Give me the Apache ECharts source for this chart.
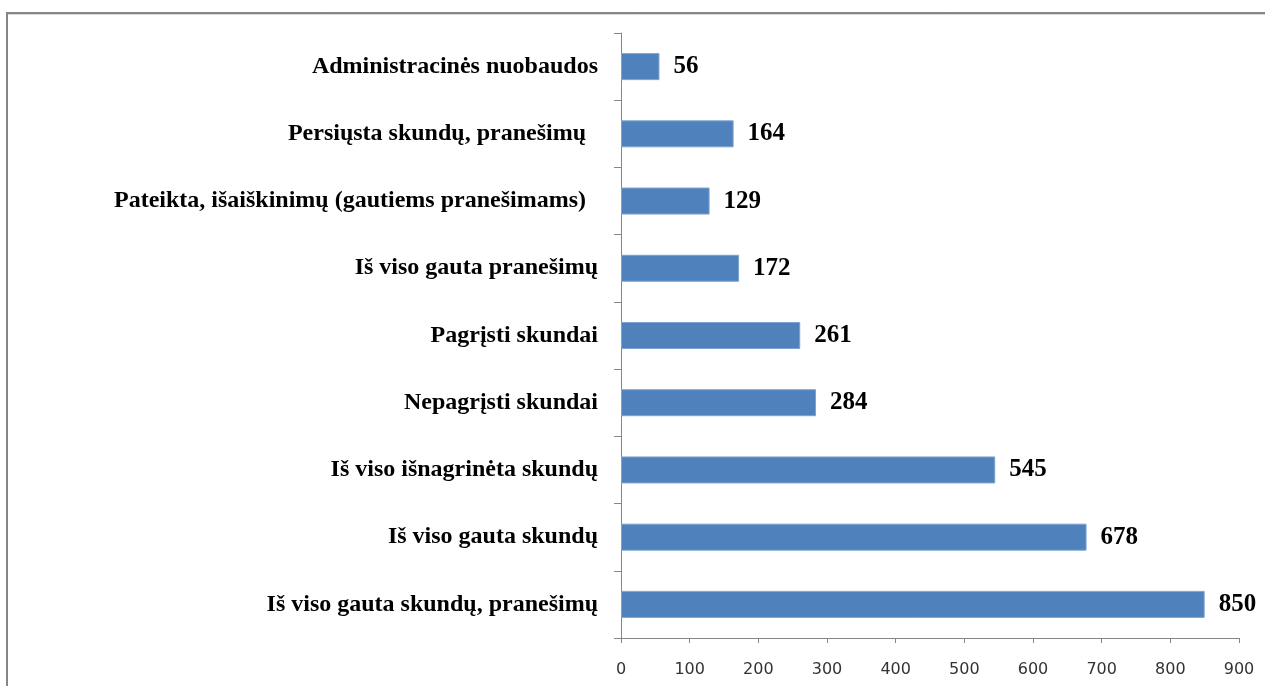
<!DOCTYPE html>
<html>
<head>
<meta charset="utf-8">
<script src="https://cdn.jsdelivr.net/npm/echarts@6/dist/echarts.min.js"></script>
<style>
html,body{margin:0;padding:0;background:#fff;}
#c{width:1265px;height:686px;}
</style>
</head>
<body>
<div id="c"></div>
<script>
const categories = [
  "Administracinės nuobaudos",
  "Persiųsta skundų, pranešimų  ",
  "Pateikta, išaiškinimų (gautiems pranešimams)  ",
  "Iš viso gauta pranešimų",
  "Pagrįsti skundai",
  "Nepagrįsti skundai",
  "Iš viso išnagrinėta skundų",
  "Iš viso gauta skundų",
  "Iš viso gauta skundų, pranešimų"
];
const values = [56, 164, 129, 172, 261, 284, 545, 678, 850];
const xTicks = [0, 100, 200, 300, 400, 500, 600, 700, 800, 900];

const chart = echarts.init(document.getElementById('c'));
chart.setOption({
  animation: false,
  backgroundColor: '#fff',
  graphic: [
    {type: 'line', shape: {x1: 7, y1: 13, x2: 1265, y2: 13}, style: {stroke: '#868686', lineWidth: 2}},
    {type: 'line', shape: {x1: 8, y1: 14.5, x2: 1265, y2: 14.5}, style: {stroke: '#d9d9d9', lineWidth: 1}},
    {type: 'line', shape: {x1: 7, y1: 12, x2: 7, y2: 686}, style: {stroke: '#868686', lineWidth: 2}}
  ],
  grid: {left: 621, right: 26, top: 33, bottom: 48, containLabel: false},
  xAxis: {
    type: 'value',
    min: xTicks[0],
    max: xTicks[xTicks.length - 1],
    interval: 100,
    axisLine: {show: true, lineStyle: {color: '#868686', width: 1}},
    axisTick: {show: true, length: 5, lineStyle: {color: '#868686'}},
    splitLine: {show: false},
    axisLabel: {
      color: '#333',
      fontFamily: 'DejaVu Sans',
      fontSize: 16,
      margin: 24
    }
  },
  yAxis: {
    type: 'category',
    inverse: true,
    data: categories,
    axisLine: {show: true, lineStyle: {color: '#868686', width: 1}},
    axisTick: {show: true, length: 7, alignWithLabel: false, lineStyle: {color: '#868686'}},
    axisLabel: {
      color: '#000',
      fontFamily: 'Liberation Serif',
      fontWeight: 'bold',
      fontSize: 24,
      margin: 23
    }
  },
  series: [{
    type: 'bar',
    data: values,
    barWidth: 27,
    itemStyle: {color: '#4F81BD', borderColor: '#7FA3CF', borderWidth: 1},
    label: {
      show: true,
      position: 'right',
      distance: 14,
      color: '#000',
      fontFamily: 'Liberation Serif',
      fontWeight: 'bold',
      fontSize: 25
    }
  }]
});
</script>
</body>
</html>
